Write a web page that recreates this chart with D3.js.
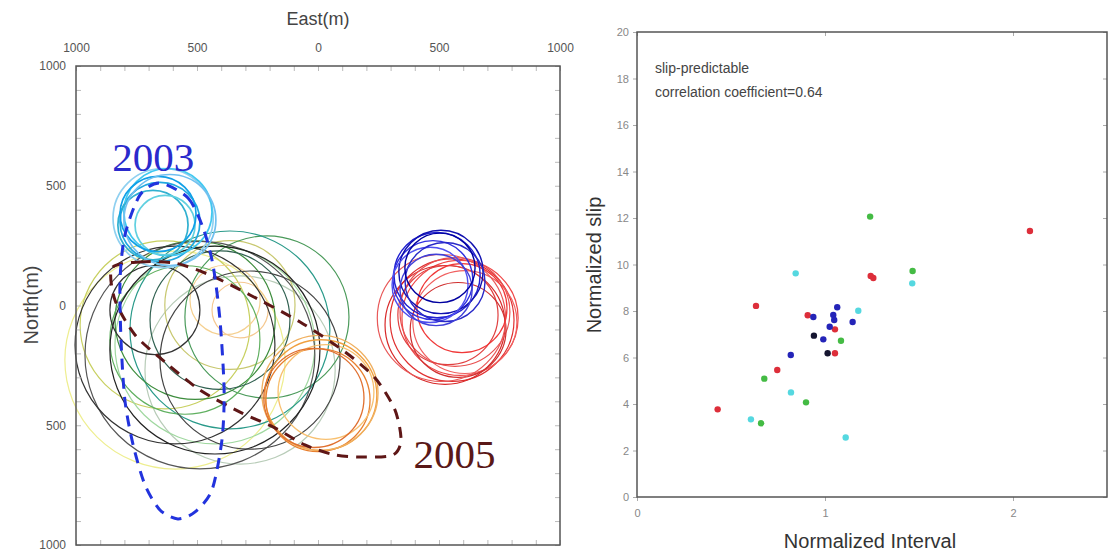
<!DOCTYPE html>
<html>
<head>
<meta charset="utf-8">
<script src="https://cdn.jsdelivr.net/npm/d3@7"></script>
<style>
  body { margin: 0; background: #fff; }
  svg { font-family: "Liberation Sans", Arial, sans-serif; }
</style>
</head>
<body>
<svg id="chart" width="1110" height="558"></svg>
<script>
// ---- left panel data: circles [east, north, radius] in metres ----
var cyanCircles = [[-640, 365, 207], [-653, 349, 165], [-620, 390, 182], [-682, 336, 145], [-632, 336, 124], [-661, 382, 157], [-612, 357, 190]];
var cyanColors = ["#8fd0f0", "#20a8e0", "#40c8f0", "#30b0d0", "#60d0e0", "#10a0e8", "#70c0f0"];

var mixCircles = [[-591, -228, 455], [-322, -269, 393], [-632, -81, 351], [-426, -165, 413], [-364, 2, 269],
                  [-384, 23, 145], [-322, -19, 116], [-211, -48, 339], [-364, -102, 413], [-508, -61, 331],
                  [-550, -144, 310], [-405, -61, 289], [-488, -207, 475], [-591, -165, 413], [-426, -186, 434],
                  [-281, -228, 372], [-674, -19, 186]];
var mixColors = ["#eeee90", "#b8ccb8", "#c8d060", "#a0d8a0", "#c8c870",
                 "#f5d090", "#f5c890", "#4a9a5a", "#2a9a8a", "#3c8c3c",
                 "#60b060", "#306050", "#555555", "#333333", "#222222",
                 "#444444", "#333333"];

var orangeCircles = [[12, -374, 231], [0, -395, 215], [33, -361, 198], [8, -365, 240], [-17, -386, 207]];
var orangeColors = ["#f0a040", "#e88030", "#f8c070", "#f0b060", "#e07030"];

var redCircles = [[554, -61, 256], [587, -52, 240], [525, -81, 248], [566, -27, 227], [607, -69, 215],
                  [537, -40, 207], [579, -102, 198], [510, -52, 265], [595, -11, 186]];
var redColors = ["#e03030", "#f04848", "#d82828", "#e85050", "#f06060", "#e04040", "#d03030", "#e85858", "#f03838"];

var blueCircles = [[492, 127, 178], [475, 106, 165], [508, 140, 174], [463, 86, 157], [525, 98, 165], [488, 65, 149], [504, 157, 145]];
var blueColors = ["#2020d0", "#3030e0", "#1010b0", "#5050f0", "#2828c8", "#4040d8", "#0000a0"];

// dashed outlines [east, north]
var outline2003 = [[-653, 511], [-537, 449], [-475, 324], [-434, 169], [-405, -61], [-388, -353], [-397, -562],
                   [-438, -770], [-508, -862], [-579, -891], [-653, -854], [-715, -749], [-764, -582], [-798, -395],
                   [-814, -144], [-818, 106], [-798, 294], [-736, 461]];
var outline2005 = [[-851, 157], [-736, 182], [-591, 177], [-446, 127], [-281, 44], [-74, -69], [112, -194],
                   [236, -303], [318, -436], [343, -562], [310, -624], [194, -633], [70, -624], [-54, -582],
                   [-178, -511], [-322, -445], [-488, -353], [-632, -236], [-756, -123], [-839, 23]];

var mapTicks = [-1000, -500, 0, 500, 1000];

// ---- right panel data: [normalized interval, normalized slip] ----
var redPts = [[1.243, 9.51], [1.257, 9.42], [0.633, 8.22], [0.908, 7.82], [1.053, 7.21], [1.053, 6.18], [0.746, 5.46], [0.429, 3.77], [2.09, 11.44]];
var bluePts = [[1.065, 8.16], [0.938, 7.74], [1.044, 7.83], [1.049, 7.61], [1.147, 7.53], [1.025, 7.32], [0.991, 6.78], [0.818, 6.11]];
var cyanPts = [[0.844, 9.62], [1.464, 9.19], [1.177, 8.01], [0.819, 4.50], [0.606, 3.34], [1.110, 2.56]];
var greenPts = [[1.24, 12.06], [1.466, 9.72], [1.085, 6.72], [0.677, 5.09], [0.899, 4.07], [0.660, 3.17]];
var blackPts = [[0.941, 6.94], [1.014, 6.18]];
var slipTicks = [0, 2, 4, 6, 8, 10, 12, 14, 16, 18, 20];
var intervalTicks = [0, 1, 2];

var svg = d3.select("#chart");

// ================= left panel =================
var x = d3.scaleLinear().domain([-1000, 1000]).range([76, 560]);
var y = d3.scaleLinear().domain([1000, -1000]).range([66, 545]);

var left = svg.append("g");

function drawCircles(list, colors, width) {
    left.append("g").selectAll("ellipse")
        .data(list)
        .enter()
        .append("ellipse")
        .attr("cx", function (d) { return x(d[0]); })
        .attr("cy", function (d) { return y(d[1]); })
        .attr("rx", function (d) { return x(d[2]) - x(0); })
        .attr("ry", function (d) { return y(0) - y(d[2]); })
        .attr("fill", "none")
        .attr("stroke", function (d, i) { return colors[i]; })
        .attr("stroke-width", width);
}

drawCircles(mixCircles, mixColors, 1.2);
drawCircles(cyanCircles, cyanColors, 1.7);
drawCircles(orangeCircles, orangeColors, 1.3);
drawCircles(redCircles, redColors, 1.2);
drawCircles(blueCircles, blueColors, 1.4);

var outline = d3.line()
    .x(function (d) { return x(d[0]); })
    .y(function (d) { return y(d[1]); })
    .curve(d3.curveCardinalClosed.tension(0.2));

left.append("path")
    .attr("d", outline(outline2005))
    .attr("fill", "none")
    .attr("stroke", "#5e1616")
    .attr("stroke-width", 3)
    .attr("stroke-dasharray", "11,8");

left.append("path")
    .attr("d", outline(outline2003))
    .attr("fill", "none")
    .attr("stroke", "#2233dd")
    .attr("stroke-width", 3)
    .attr("stroke-dasharray", "11,8");

left.append("text")
    .attr("x", x(-850)).attr("y", y(560))
    .attr("font-family", "Liberation Serif, serif")
    .attr("font-size", 41)
    .attr("fill", "#2a2acc")
    .text("2003");

left.append("text")
    .attr("x", x(395)).attr("y", y(-680))
    .attr("font-family", "Liberation Serif, serif")
    .attr("font-size", 41)
    .attr("fill", "#5a1818")
    .text("2005");

// minor ticks (inside the frame)
var minor = d3.range(-1000, 1001, 100);
left.append("g").attr("transform", "translate(0,545)")
    .call(d3.axisBottom(x).tickValues(minor).tickSize(-5).tickFormat(""));
left.append("g").attr("transform", "translate(0,66)")
    .call(d3.axisTop(x).tickValues(minor).tickSize(-5).tickFormat(""));
left.append("g").attr("transform", "translate(76,0)")
    .call(d3.axisLeft(y).tickValues(minor).tickSize(-5).tickFormat(""));
left.append("g").attr("transform", "translate(560,0)")
    .call(d3.axisRight(y).tickValues(minor).tickSize(-5).tickFormat(""));
left.selectAll(".domain").remove();
left.selectAll(".tick line").attr("stroke", "#bbb");

// labelled axes
var topAxis = left.append("g").attr("transform", "translate(0,66)")
    .call(d3.axisTop(x).tickValues(mapTicks).tickSize(0).tickPadding(14)
        .tickFormat(function (d) { return Math.abs(d); }));
var leftAxis = left.append("g").attr("transform", "translate(76,0)")
    .call(d3.axisLeft(y).tickValues(mapTicks).tickSize(0).tickPadding(10)
        .tickFormat(function (d) { return Math.abs(d); }));
[topAxis, leftAxis].forEach(function (g) {
    g.select(".domain").remove();
    g.selectAll("text").attr("font-size", 12).attr("fill", "#555").attr("font-family", "Liberation Sans Narrow, Liberation Sans, sans-serif");
});

left.append("rect")
    .attr("x", 76).attr("y", 66)
    .attr("width", 484).attr("height", 479)
    .attr("fill", "none")
    .attr("stroke", "#555")
    .attr("stroke-width", 1.5);

left.append("text")
    .attr("x", 318).attr("y", 25)
    .attr("text-anchor", "middle")
    .attr("font-size", 18)
    .attr("fill", "#444")
    .text("East(m)");

left.append("text")
    .attr("transform", "translate(38,305) rotate(-90)")
    .attr("text-anchor", "middle")
    .attr("font-size", 20)
    .attr("fill", "#444")
    .text("North(m)");

// ================= right panel =================
var xs = d3.scaleLinear().domain([0, 2.5]).range([637, 1107]);
var ys = d3.scaleLinear().domain([0, 20]).range([497, 32]);

var right = svg.append("g");

right.append("g").attr("transform", "translate(637,0)")
    .call(d3.axisLeft(ys).tickValues(slipTicks).tickSize(4).tickPadding(4));
right.append("g").attr("transform", "translate(0,497)")
    .call(d3.axisBottom(xs).tickValues(intervalTicks).tickSize(4).tickPadding(8).tickFormat(d3.format("d")));
right.append("g").attr("transform", "translate(0,32)")
    .call(d3.axisTop(xs).tickValues(intervalTicks).tickSize(-4).tickFormat(""));
right.append("g").attr("transform", "translate(1107,0)")
    .call(d3.axisRight(ys).tickValues(slipTicks).tickSize(-4).tickFormat(""));
right.selectAll(".domain").remove();
right.selectAll(".tick line").attr("stroke", "#aaa");
right.selectAll(".tick text").attr("font-size", 11).attr("fill", "#888");

right.append("rect")
    .attr("x", 637).attr("y", 32)
    .attr("width", 470).attr("height", 465)
    .attr("fill", "none")
    .attr("stroke", "#555")
    .attr("stroke-width", 1.5);

var groups = [
    { pts: cyanPts, color: "#55d8e0" },
    { pts: greenPts, color: "#44bb44" },
    { pts: redPts, color: "#dd2e3a" },
    { pts: bluePts, color: "#2424b8" },
    { pts: blackPts, color: "#151530" }
];
groups.forEach(function (g) {
    right.append("g").selectAll("circle")
        .data(g.pts)
        .enter()
        .append("circle")
        .attr("cx", function (d) { return xs(d[0]); })
        .attr("cy", function (d) { return ys(d[1]); })
        .attr("r", 3.2)
        .attr("fill", g.color);
});

right.append("text")
    .attr("x", 655).attr("y", 73)
    .attr("font-size", 14)
    .attr("fill", "#444")
    .text("slip-predictable");
right.append("text")
    .attr("x", 655).attr("y", 97)
    .attr("font-size", 14)
    .attr("fill", "#444")
    .text("correlation coefficient=0.64");

right.append("text")
    .attr("transform", "translate(601,265) rotate(-90)")
    .attr("text-anchor", "middle")
    .attr("font-size", 20)
    .attr("fill", "#333")
    .text("Normalized slip");

right.append("text")
    .attr("x", 870).attr("y", 548)
    .attr("text-anchor", "middle")
    .attr("font-size", 20)
    .attr("fill", "#333")
    .text("Normalized Interval");
</script>
</body>
</html>
